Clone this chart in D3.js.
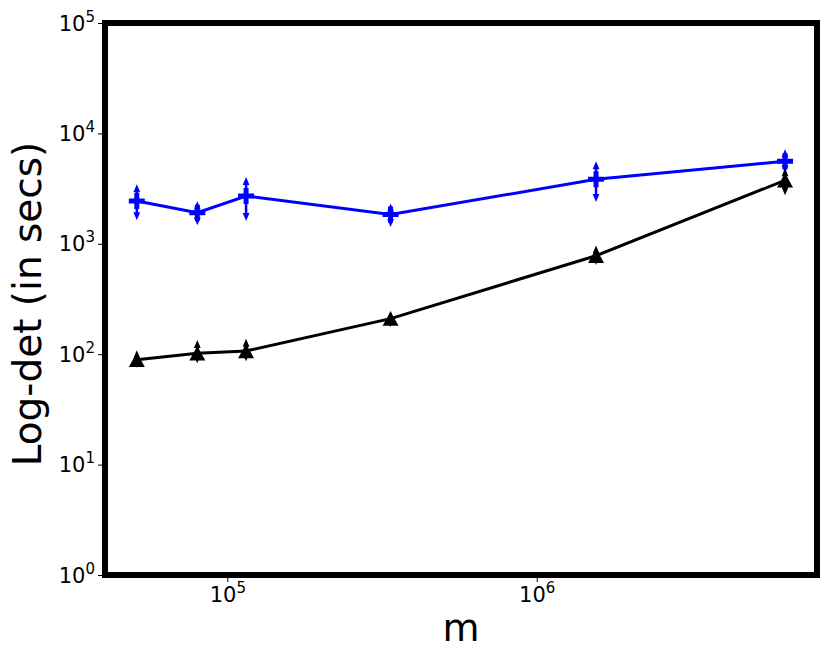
<!DOCTYPE html>
<html>
<head>
<meta charset="utf-8">
<script src="https://cdn.jsdelivr.net/npm/d3@7"></script>
<style>
  body { margin: 0; background: #fff; }
  text { font-family: "DejaVu Sans", sans-serif; }
</style>
</head>
<body>
<div id="canvas"></div>
<script>
// problem size m
const mValues = [51000, 80000, 115000, 337000, 1555000, 6346000];
// blue series (+ markers)
const blueTime = [2440, 1915, 2710, 1840, 3840, 5600];
const blueLow = [1773, 1597, 1747, 1541, 2600, 4733];
const blueHigh = [3184, 2231, 3707, 2127, 5146, 6610];
// black series (triangle markers)
const blackTime = [89, 102, 107, 210, 780, 3760];
const blackLow = [82, 90, 94, 192, 700, 2988];
const blackHigh = [100, 124, 127, 226, 890, 4446];

const xTicks = [1e5, 1e6];
const xTickExp = ["5", "6"];
const yTicks = [1, 10, 100, 1000, 10000, 100000];
const yTickExp = ["0", "1", "2", "3", "4", "5"];

const width = 830;
const height = 664;
const margin = { top: 23, left: 105, bottom: 89, right: 13 };
const iwidth = width - margin.left - margin.right;
const iheight = height - margin.top - margin.bottom;

const svg = d3.select("#canvas").append("svg")
  .attr("width", width)
  .attr("height", height);

const g = svg.append("g").attr("transform", `translate(${margin.left},${margin.top})`);

const x = d3.scaleLog().domain([40250, 8.05e6]).range([0, iwidth]);
const y = d3.scaleLog().domain([1, 1e5]).range([iheight, 0]);

// axes
const xAxis = g.append("g")
  .attr("transform", `translate(0,${iheight})`)
  .call(d3.axisBottom(x).tickValues(xTicks).tickSize(7).tickPadding(10).tickFormat(""));
const yAxis = g.append("g")
  .call(d3.axisLeft(y).tickValues(yTicks).tickSize(7).tickPadding(10).tickFormat(""));

[xAxis, yAxis].forEach(a => {
  a.select(".domain").remove();
  a.selectAll(".tick line").attr("stroke", "#000").attr("stroke-width", 1);
});

xAxis.selectAll(".tick").each(function(d, i) {
  const t = d3.select(this).select("text")
    .attr("y", 27).attr("dy", 0)
    .attr("fill", "#000").attr("font-size", 21).attr("text-anchor", "middle");
  t.append("tspan").text("10");
  t.append("tspan").attr("dy", -9).attr("font-size", 15).text(xTickExp[i]);
});

yAxis.selectAll(".tick").each(function(d, i) {
  const t = d3.select(this).select("text")
    .attr("x", -10).attr("dy", 7)
    .attr("fill", "#000").attr("font-size", 21).attr("text-anchor", "end");
  t.append("tspan").text("10");
  t.append("tspan").attr("dy", -9).attr("font-size", 15).text(yTickExp[i]);
});

// axis titles
svg.append("text")
  .attr("x", margin.left + iwidth / 2)
  .attr("y", 641)
  .attr("text-anchor", "middle")
  .attr("font-size", 38)
  .text("m");

svg.append("text")
  .attr("transform", `translate(41,${margin.top + iheight / 2 + 5}) rotate(-90)`)
  .attr("text-anchor", "middle")
  .attr("font-size", 39)
  .text("Log-det (in secs)");

// marker shapes
const plusSym = {
  draw(ctx, size) {
    const r = Math.sqrt(size) / 2;
    ctx.moveTo(-r, 0); ctx.lineTo(r, 0);
    ctx.moveTo(0, -r); ctx.lineTo(0, r);
  }
};
const triSym = {
  draw(ctx, size) {
    const r = Math.sqrt(size) / 2;
    ctx.moveTo(0, -r * 0.9); ctx.lineTo(r, r * 0.9); ctx.lineTo(-r, r * 0.9); ctx.closePath();
  }
};
const arrowSym = {
  draw(ctx, size) {
    const r = Math.sqrt(size) / 2;
    ctx.moveTo(0, -r); ctx.lineTo(r * 0.85, r); ctx.lineTo(-r * 0.85, r); ctx.closePath();
  }
};

const series = [
  { name: "blue", color: "#0000ff", mid: blueTime, low: blueLow, high: blueHigh, marker: "plus" },
  { name: "black", color: "#000000", mid: blackTime, low: blackLow, high: blackHigh, marker: "tri" }
];

const line = d3.line().x(d => x(d.m)).y(d => y(d.v));

series.forEach(s => {
  const pts = mValues.map((m, i) => ({ m: m, v: s.mid[i], lo: s.low[i], hi: s.high[i] }));
  const sg = g.append("g").attr("class", "series-" + s.name);

  sg.append("path")
    .datum(pts)
    .attr("fill", "none")
    .attr("stroke", s.color)
    .attr("stroke-width", 3)
    .attr("d", line);

  if (s.marker === "plus") {
    sg.selectAll(".mk")
      .data(pts)
      .enter().append("path")
      .attr("class", "mk")
      .attr("transform", d => `translate(${x(d.m)},${y(d.v)})`)
      .attr("d", d3.symbol(plusSym, 256))
      .attr("fill", "none")
      .attr("stroke", s.color)
      .attr("stroke-width", 5);
  } else {
    sg.selectAll(".mk")
      .data(pts)
      .enter().append("path")
      .attr("class", "mk")
      .attr("transform", d => `translate(${x(d.m)},${y(d.v)})`)
      .attr("d", d3.symbol(triSym, 256))
      .attr("fill", s.color);
  }

  // error bars
  sg.selectAll(".err")
    .data(pts)
    .enter().append("line")
    .attr("class", "err")
    .attr("x1", d => x(d.m)).attr("x2", d => x(d.m))
    .attr("y1", d => y(d.lo)).attr("y2", d => y(d.hi))
    .attr("stroke", s.color)
    .attr("stroke-width", 2.5);

  sg.selectAll(".cap-up")
    .data(pts)
    .enter().append("path")
    .attr("class", "cap-up")
    .attr("transform", d => `translate(${x(d.m)},${y(d.hi)})`)
    .attr("d", d3.symbol(arrowSym, 64))
    .attr("fill", s.color);

  sg.selectAll(".cap-down")
    .data(pts)
    .enter().append("path")
    .attr("class", "cap-down")
    .attr("transform", d => `translate(${x(d.m)},${y(d.lo)}) rotate(180)`)
    .attr("d", d3.symbol(arrowSym, 64))
    .attr("fill", s.color);
});

// frame
g.append("rect")
  .attr("x", 0).attr("y", 0)
  .attr("width", iwidth).attr("height", iheight)
  .attr("fill", "none")
  .attr("stroke", "#000")
  .attr("stroke-width", 6);
</script>
</body>
</html>
